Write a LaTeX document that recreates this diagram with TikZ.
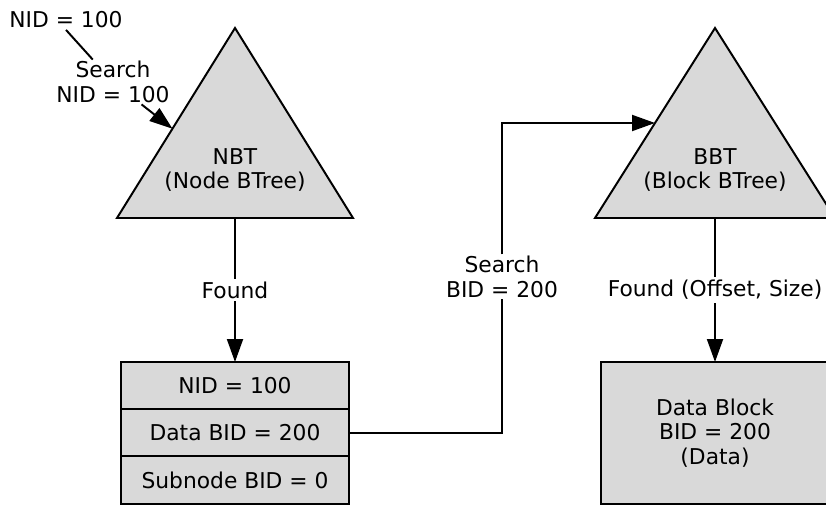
\documentclass[tikz,border=0pt]{standalone}
\usepackage{fontspec}
\setmainfont{DejaVu Sans}
\usepackage{tikz}
\usetikzlibrary{shapes,arrows}
\usetikzlibrary{positioning}
\usetikzlibrary{arrows.meta}
\usetikzlibrary{calc}

\definecolor{treegray}{RGB}{217,217,217}
\tikzset{
	txt/.style={align=center, inner sep=1pt, font=\fontsize{15.5}{17.5}\selectfont},
	lbl/.style={txt, fill=white, inner sep=2pt},
	tree/.style={draw, line width=1.4pt, fill=treegray, line join=miter},
	cell/.style={txt, draw, line width=1.4pt, fill=treegray, minimum width=5.7cm, minimum height=1.18cm, inner sep=0pt, outer sep=0pt},
	block/.style={cell, minimum height=3.55cm},
	conn/.style={line width=1.4pt, -{Triangle[length=5.75mm, width=4mm]}},
	wire/.style={line width=1.4pt}
}

\begin{document}
\begin{tikzpicture}

	\useasboundingbox (0,0) rectangle (20.65,-12.625);
	\clip (0,0) rectangle (20.65,-12.625);

	% node btree
	\coordinate (nbt-top) at (5.875,-0.7);
	\coordinate (nbt-l) at (2.925,-5.45);
	\coordinate (nbt-r) at (8.825,-5.45);
	\draw[tree] (nbt-l) -- (nbt-top) -- (nbt-r) -- cycle;
	\node[txt] (nbt) at (5.875,-4.25) {NBT\\(Node BTree)};
	\coordinate (nbt-base) at (nbt-l -| nbt-top);
	\coordinate (nbt-in) at ($(nbt-l)!0.47!(nbt-top)$);

	% block btree
	\coordinate (bbt-top) at (17.875,-0.7);
	\coordinate (bbt-l) at (14.875,-5.45);
	\coordinate (bbt-r) at (20.875,-5.45);
	\draw[tree] (bbt-l) -- (bbt-top) -- (bbt-r) -- cycle;
	\node[txt] (bbt) at (17.875,-4.25) {BBT\\(Block BTree)};
	\coordinate (bbt-base) at (bbt-l -| bbt-top);
	\coordinate (bbt-in) at ($(bbt-l)!0.5!(bbt-top)$);

	% node entry
	\node[cell] (nid) at (5.875,-9.64) {NID = 100};
	\node[cell, below=0pt of nid] (dbid) {Data BID = 200};
	\node[cell, below=0pt of dbid] (sbid) {Subnode BID = 0};

	\node[block] (data) at (17.875,-10.825) {Data Block\\BID = 200\\(Data)};

	% search labels
	\node[txt] (query) at (1.65,-0.5) {NID = 100};
	\node[txt] (nsearch) at (2.825,-2.05) {Search\\NID = 100};
	\node[txt] (bsearch) at (12.55,-6.92) {Search\\BID = 200};

	\draw[wire] (query.south) -- (nsearch);
	\draw[conn] (nsearch) -- (nbt-in);
	\draw[conn] (nbt-base) -- node[lbl]{Found} (nid);
	\draw[wire] (dbid.east) -| (bsearch);
	\draw[conn] (bsearch) |- (bbt-in);
	\draw[conn] (bbt-base) -- node[lbl]{Found (Offset, Size)} (data);

\end{tikzpicture}
\end{document}
